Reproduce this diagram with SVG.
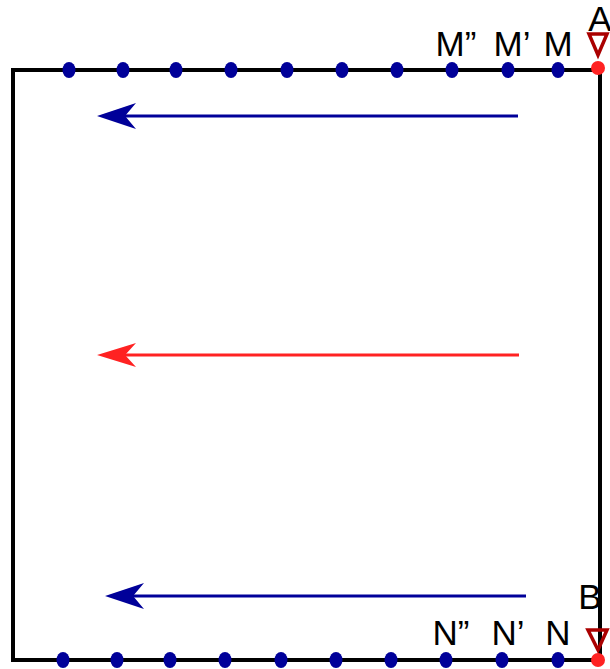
<svg xmlns="http://www.w3.org/2000/svg" width="610" height="669" viewBox="0 0 610 669">
<style>
.frame{fill:none;stroke:#000;stroke-width:4}
.dot{fill:#000099}
.rdot{fill:#ff2222}
.tri{fill:none;stroke:#aa0000;stroke-width:3.5}
.lbl{font-family:"Liberation Sans",Arial,sans-serif;font-size:35px;fill:#000}
.blue{stroke:#000099;stroke-width:3;fill:none}
.red{stroke:#ff2222;stroke-width:3;fill:none}
</style>
<defs>
<marker id="hb" markerUnits="userSpaceOnUse" orient="auto" overflow="visible" markerWidth="10" markerHeight="10" refX="0" refY="0">
<path d="M23,0 L-16,-13 L-5,0 L-16,13 Z" fill="#000099"/>
</marker>
<marker id="hr" markerUnits="userSpaceOnUse" orient="auto" overflow="visible" markerWidth="10" markerHeight="10" refX="0" refY="0">
<path d="M23,0 L-16,-12 L-5,0 L-16,12 Z" fill="#ff2222"/>
</marker>
</defs>
<rect width="610" height="669" fill="#fff"/>
<g id="frame"><path class="frame" d="M600,70 L13,70 L13,660 L600,660 L600,70"/></g>
<g id="connectors">
<line class="blue" x1="518" y1="116" x2="120" y2="116" marker-end="url(#hb)"/>
<line class="red" x1="519" y1="355" x2="120" y2="355" marker-end="url(#hr)"/>
<line class="blue" x1="526" y1="596" x2="128" y2="596" marker-end="url(#hb)"/>
</g>
<g id="top-dots">
<ellipse class="dot" cx="69" cy="70" rx="6.5" ry="8"/>
<ellipse class="dot" cx="123" cy="70" rx="6.5" ry="8"/>
<ellipse class="dot" cx="176" cy="70" rx="6.5" ry="8"/>
<ellipse class="dot" cx="231" cy="70" rx="6.5" ry="8"/>
<ellipse class="dot" cx="287" cy="70" rx="6.5" ry="8"/>
<ellipse class="dot" cx="342" cy="70" rx="6.5" ry="8"/>
<ellipse class="dot" cx="397" cy="70" rx="6.5" ry="8"/>
<ellipse class="dot" cx="452" cy="70" rx="6.5" ry="8"/>
<ellipse class="dot" cx="508" cy="70" rx="6.5" ry="8"/>
<ellipse class="dot" cx="558" cy="70" rx="6.5" ry="8"/>
</g>
<g id="bottom-dots">
<ellipse class="dot" cx="63" cy="660" rx="6.5" ry="8"/>
<ellipse class="dot" cx="117" cy="660" rx="6.5" ry="8"/>
<ellipse class="dot" cx="170" cy="660" rx="6.5" ry="8"/>
<ellipse class="dot" cx="225" cy="660" rx="6.5" ry="8"/>
<ellipse class="dot" cx="281" cy="660" rx="6.5" ry="8"/>
<ellipse class="dot" cx="336" cy="660" rx="6.5" ry="8"/>
<ellipse class="dot" cx="391" cy="660" rx="6.5" ry="8"/>
<ellipse class="dot" cx="446" cy="660" rx="6.5" ry="8"/>
<ellipse class="dot" cx="502" cy="660" rx="6.5" ry="8"/>
<ellipse class="dot" cx="558" cy="660" rx="6.5" ry="8"/>
</g>
<g id="A">
<path class="tri" d="M589,34 L607,34 L598,55 Z"/>
<circle class="rdot" cx="598" cy="68" r="7"/>
<text class="lbl" x="600" y="31" text-anchor="middle">A</text>
</g>
<g id="B">
<path class="tri" d="M588,630 L607,630 L598,650 Z"/>
<circle class="rdot" cx="598" cy="660" r="7"/>
<text class="lbl" x="590" y="609" text-anchor="middle">B</text>
</g>
<g id="top-labels">
<text class="lbl" x="456" y="56" text-anchor="middle">M”</text>
<text class="lbl" x="512" y="56" text-anchor="middle">M’</text>
<text class="lbl" x="558" y="56" text-anchor="middle">M</text>
</g>
<g id="bottom-labels">
<text class="lbl" x="451" y="645" text-anchor="middle">N”</text>
<text class="lbl" x="508" y="645" text-anchor="middle">N’</text>
<text class="lbl" x="558" y="645" text-anchor="middle">N</text>
</g>
</svg>
